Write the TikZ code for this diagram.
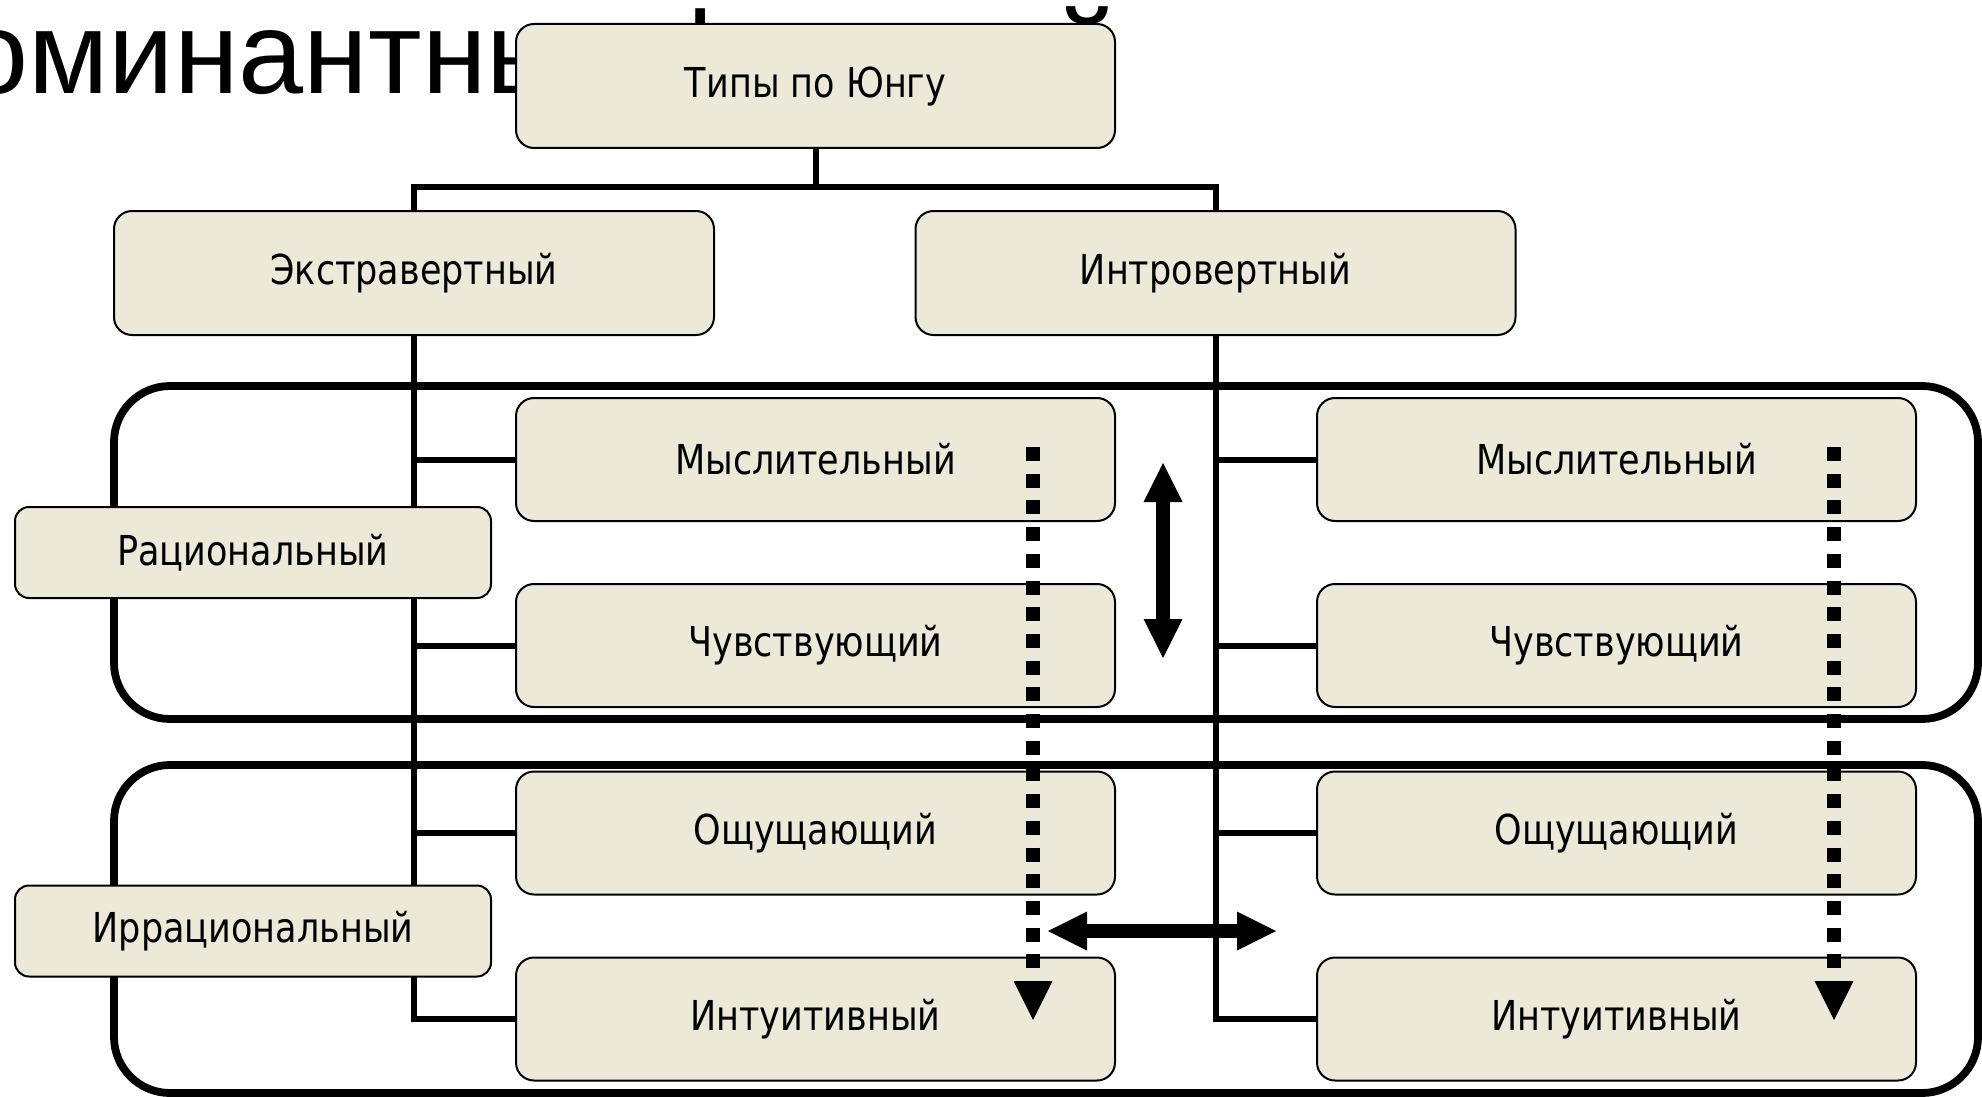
\documentclass[tikz,border=0pt]{standalone}
\usepackage{fontspec}
\newfontfamily\boxfont{DejaVu Sans}[FakeStretch=0.85]
\newfontfamily\titlefont{Liberation Sans}
\usetikzlibrary{arrows.meta}
\definecolor{boxfill}{HTML}{ECE9D8}
\begin{document}
\begin{tikzpicture}[x=0.5pt,y=-0.5pt,
  funcbox/.style={draw=black, line width=1pt, fill=boxfill, rounded corners=9pt,
    minimum width=299.5pt, minimum height=61.5pt, inner sep=0pt,
    font=\boxfont\fontsize{20.6}{24}\selectfont},
  sidebox/.style={funcbox, rounded corners=7pt, minimum width=238pt, minimum height=45.5pt},
  group/.style={line width=3.9pt, rounded corners=28pt},
  conn/.style={line width=3pt},
  dotarrow/.style={line width=7pt, dash pattern=on 7pt off 6.35pt, -{Triangle[length=19.5pt,width=19.5pt,line width=0pt]}},
  dblarrow/.style={line width=7pt, {Triangle[length=19.5pt,width=19.5pt,line width=0pt]}-{Triangle[length=19.5pt,width=19.5pt,line width=0pt]}}
]
\useasboundingbox (0,0) rectangle (1982,1097);
\clip (0,0) rectangle (1982,1097);
% title (mostly hidden behind the top box)
\node[anchor=base west, inner sep=0pt, font=\titlefont\fontsize{58.5}{60}\selectfont] (title) at (-37,94) {\llap{Д}оминантные\hspace{8.3pt}функций};
% groups
\draw[group] (114,386) rectangle (1978,719);
\draw[group] (114,765) rectangle (1978,1093);
% nodes
\node[funcbox, minimum height=62pt] (top) at (815.5,86) {Типы по Юнгу};
\node[funcbox, minimum width=300pt, minimum height=62pt] (ext) at (414,273) {Экстравертный};
\node[funcbox, minimum width=300pt, minimum height=62pt] (int) at (1215.5,273) {Интровертный};
\node[funcbox] (eT) at (815.5,459.5) {Мыслительный};
\node[funcbox] (eF) at (815.5,645.5) {Чувствующий};
\node[funcbox] (eS) at (815.5,833) {Ощущающий};
\node[funcbox] (eN) at (815.5,1019) {Интуитивный};
\node[funcbox] (iT) at (1616.5,459.5) {Мыслительный};
\node[funcbox] (iF) at (1616.5,645.5) {Чувствующий};
\node[funcbox] (iS) at (1616.5,833) {Ощущающий};
\node[funcbox] (iN) at (1616.5,1019) {Интуитивный};
\coordinate (J) at (815.5,187);
% connectors
\draw[conn] (top.south) -- (J);
\draw[conn] (ext.north) |- (int.north |- J) -- (int.north);
\draw[conn] (ext.south) -- (ext.south |- eN.west) -- (eN.west);
\draw[conn] (ext.south |- eT.west) -- (eT.west);
\draw[conn] (ext.south |- eF.west) -- (eF.west);
\draw[conn] (ext.south |- eS.west) -- (eS.west);
\draw[conn] (int.south) -- (int.south |- iN.west) -- (iN.west);
\draw[conn] (int.south |- iT.west) -- (iT.west);
\draw[conn] (int.south |- iF.west) -- (iF.west);
\draw[conn] (int.south |- iS.west) -- (iS.west);
\node[sidebox] (rat) at (253,552.5) {Рациональный};
\node[sidebox] (irr) at (253,931) {Иррациональный};
% arrows
\coordinate (dA1) at (1033,447);
\coordinate (dA2) at (1033,1020);
\coordinate (dB1) at (1834,447);
\coordinate (dB2) at (1834,1020);
\coordinate (vA) at (1163,463);
\coordinate (vB) at (1163,658);
\coordinate (hA) at (1048,931);
\coordinate (hB) at (1276,931);
\draw[dotarrow] (dA1) -- (dA2);
\draw[dotarrow] (dB1) -- (dB2);
\draw[dblarrow] (vA) -- (vB);
\draw[dblarrow] (hA) -- (hB);
\end{tikzpicture}
\end{document}
